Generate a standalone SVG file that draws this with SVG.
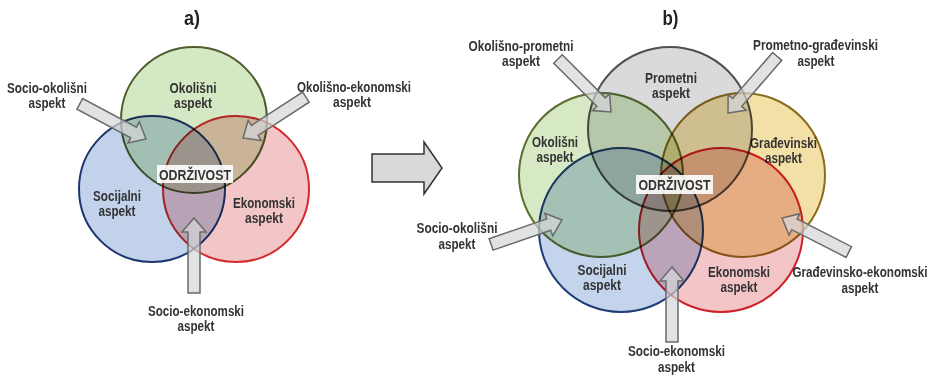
<svg xmlns="http://www.w3.org/2000/svg" width="935" height="376" viewBox="0 0 935 376">
<style>
text{font-family:"Liberation Sans Narrow","Liberation Sans",Arial,sans-serif;font-weight:bold;font-size:14.5px;fill:#333;text-anchor:middle}
.title{font-size:20px;fill:#222}
.node{mix-blend-mode:multiply}
.c{stroke-width:2}
.arr{fill:#d4d5d8;fill-opacity:0.7;stroke:#6a6a6a;stroke-width:1.5;stroke-linejoin:miter}
.box{fill:#fff;fill-opacity:0.9}
</style>
<defs>
<path id="ar" d="M0,0 L-14,-12 L-14,-6 L-75,-6 L-75,6 L-14,6 L-14,12 Z"/>
</defs>
<rect width="935" height="376" fill="#fff"/>
<text class="title" x="192" y="25" textLength="16" lengthAdjust="spacingAndGlyphs">a)</text>
<text class="title" x="670.5" y="25" textLength="16" lengthAdjust="spacingAndGlyphs">b)</text>

<!-- Part a -->
<g id="a-okolisni" class="node">
<circle class="c" cx="194" cy="120" r="73" fill="#d5e8c4" stroke="#4e5f2c"/>
<text x="193" y="93" textLength="47" lengthAdjust="spacingAndGlyphs">Okolišni</text>
<text x="193" y="108" textLength="38" lengthAdjust="spacingAndGlyphs">aspekt</text>
</g>
<g id="a-socijalni" class="node">
<circle class="c" cx="152" cy="189" r="73" fill="#c2d2eb" stroke="#1e3570"/>
<text x="117" y="201" textLength="48" lengthAdjust="spacingAndGlyphs">Socijalni</text>
<text x="117" y="216" textLength="37" lengthAdjust="spacingAndGlyphs">aspekt</text>
</g>
<g id="a-ekonomski" class="node">
<circle class="c" cx="236" cy="189" r="73" fill="#f2c6c6" stroke="#d42a2a"/>
<text x="264" y="208" textLength="62" lengthAdjust="spacingAndGlyphs">Ekonomski</text>
<text x="264" y="223" textLength="38" lengthAdjust="spacingAndGlyphs">aspekt</text>
</g>
<g id="a-odrzivost">
<rect class="box" x="157" y="165" width="76" height="18"/>
<text x="195" y="180" textLength="72" lengthAdjust="spacingAndGlyphs">ODRŽIVOST</text>
</g>
<g id="a-socio-okolisni">
<text x="47" y="93" textLength="80" lengthAdjust="spacingAndGlyphs">Socio-okolišni</text>
<text x="47" y="108" textLength="37" lengthAdjust="spacingAndGlyphs">aspekt</text>
</g>
<g id="a-okolisno-ekonomski">
<text x="354" y="92" textLength="114" lengthAdjust="spacingAndGlyphs">Okolišno-ekonomski</text>
<text x="352" y="107" textLength="38" lengthAdjust="spacingAndGlyphs">aspekt</text>
</g>
<g id="a-socio-ekonomski">
<text x="196" y="316" textLength="96" lengthAdjust="spacingAndGlyphs">Socio-ekonomski</text>
<text x="196" y="331" textLength="37" lengthAdjust="spacingAndGlyphs">aspekt</text>
</g>

<!-- Part b -->
<g id="b-prometni" class="node">
<circle class="c" cx="670" cy="129" r="82" fill="#dadadd" stroke="#505050"/>
<text x="671" y="83" textLength="52" lengthAdjust="spacingAndGlyphs">Prometni</text>
<text x="671" y="98" textLength="38" lengthAdjust="spacingAndGlyphs">aspekt</text>
</g>
<g id="b-okolisni" class="node">
<circle class="c" cx="601" cy="175" r="82" fill="#d6e9c4" stroke="#5b6e2e"/>
<text x="555" y="147" textLength="46" lengthAdjust="spacingAndGlyphs">Okolišni</text>
<text x="555" y="162" textLength="37" lengthAdjust="spacingAndGlyphs">aspekt</text>
</g>
<g id="b-gradevinski" class="node">
<circle class="c" cx="743" cy="175" r="82" fill="#f3e0a6" stroke="#8c6b1c"/>
<text x="783.5" y="148" textLength="67" lengthAdjust="spacingAndGlyphs">Građevinski</text>
<text x="783.5" y="163" textLength="37" lengthAdjust="spacingAndGlyphs">aspekt</text>
</g>
<g id="b-socijalni" class="node">
<circle class="c" cx="621" cy="230" r="82" fill="#c4d4ed" stroke="#203d78"/>
<text x="602" y="275" textLength="49" lengthAdjust="spacingAndGlyphs">Socijalni</text>
<text x="602" y="290" textLength="38" lengthAdjust="spacingAndGlyphs">aspekt</text>
</g>
<g id="b-ekonomski" class="node">
<circle class="c" cx="721" cy="230" r="82" fill="#f3c5c7" stroke="#cf2027"/>
<text x="739" y="277" textLength="62" lengthAdjust="spacingAndGlyphs">Ekonomski</text>
<text x="739" y="292" textLength="37" lengthAdjust="spacingAndGlyphs">aspekt</text>
</g>
<g id="b-odrzivost">
<rect class="box" x="636" y="175" width="77" height="19"/>
<text x="674.5" y="190" textLength="72" lengthAdjust="spacingAndGlyphs">ODRŽIVOST</text>
</g>
<g id="b-okolisno-prometni">
<text x="521" y="51" textLength="105" lengthAdjust="spacingAndGlyphs">Okolišno-prometni</text>
<text x="521" y="66" textLength="38" lengthAdjust="spacingAndGlyphs">aspekt</text>
</g>
<g id="b-prometno-gradevinski">
<text x="815.5" y="50" textLength="125" lengthAdjust="spacingAndGlyphs">Prometno-građevinski</text>
<text x="816" y="66" textLength="37" lengthAdjust="spacingAndGlyphs">aspekt</text>
</g>
<g id="b-socio-okolisni">
<text x="457" y="233" textLength="81" lengthAdjust="spacingAndGlyphs">Socio-okolišni</text>
<text x="457" y="249" textLength="37" lengthAdjust="spacingAndGlyphs">aspekt</text>
</g>
<g id="b-gradevinsko-ekonomski">
<text x="860" y="277" textLength="135" lengthAdjust="spacingAndGlyphs">Građevinsko-ekonomski</text>
<text x="860" y="293" textLength="37" lengthAdjust="spacingAndGlyphs">aspekt</text>
</g>
<g id="b-socio-ekonomski">
<text x="676.5" y="356" textLength="97" lengthAdjust="spacingAndGlyphs">Socio-ekonomski</text>
<text x="676.5" y="372" textLength="37" lengthAdjust="spacingAndGlyphs">aspekt</text>
</g>

<!-- connectors -->
<g id="connectors">
<use href="#ar" class="arr" transform="translate(146,139) rotate(28)"/>
<use href="#ar" class="arr" transform="translate(243,138) rotate(147)"/>
<use href="#ar" class="arr" transform="translate(194,218) rotate(-90)"/>
<use href="#ar" class="arr" transform="translate(611,112) rotate(45)"/>
<use href="#ar" class="arr" transform="translate(728,113) rotate(131)"/>
<use href="#ar" class="arr" transform="translate(562,220) rotate(-19)"/>
<use href="#ar" class="arr" transform="translate(782,218) rotate(207)"/>
<use href="#ar" class="arr" transform="translate(672,267) rotate(-90)"/>
<polygon points="372,154 424,154 424,142 442,168 424,194 424,182 372,182" fill="#d9d9d9" stroke="#333" stroke-width="1.5"/>
</g>
</svg>
